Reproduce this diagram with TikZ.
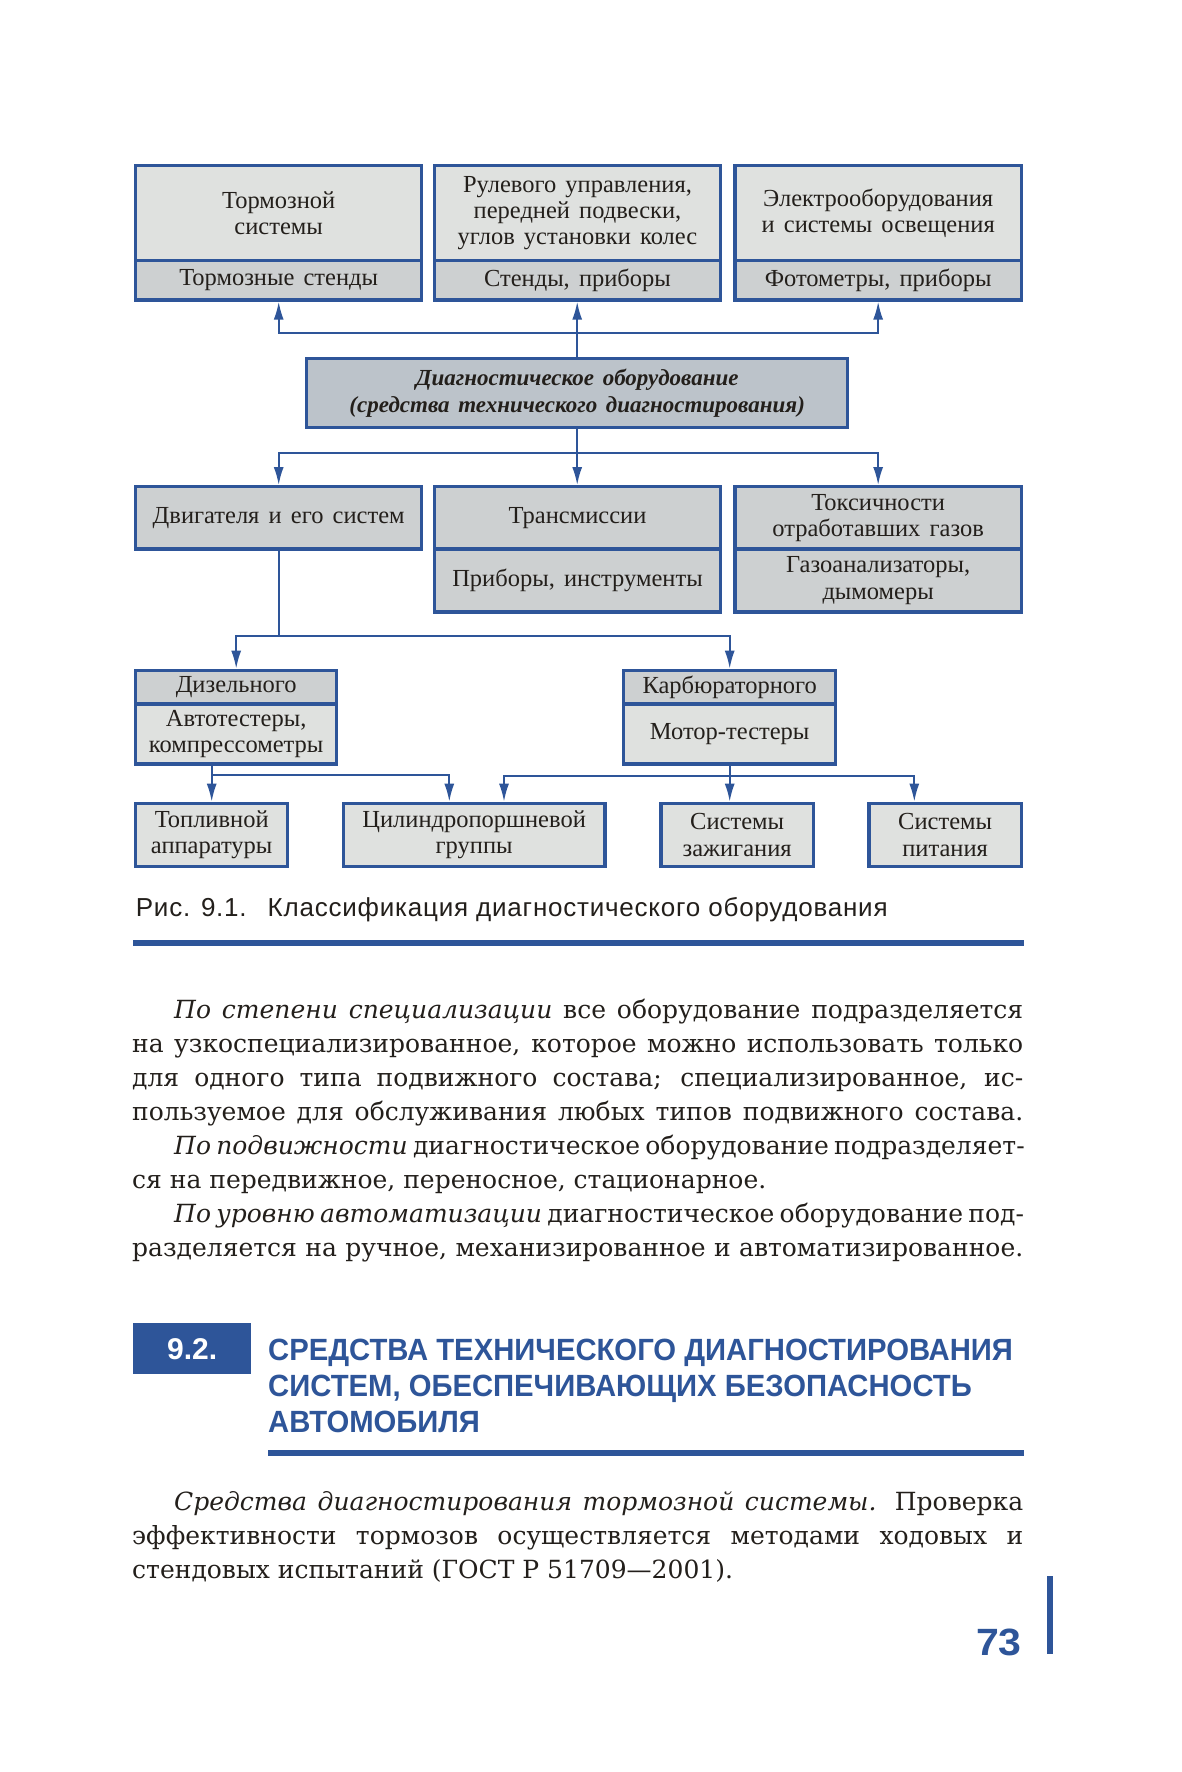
\documentclass[tikz,border=0pt]{standalone}
\usepackage{fontspec}
\setmainfont{Liberation Serif}
\newfontfamily\boxfont[WordSpace=1.5]{Liberation Serif}
\newfontfamily\bodyfont{DejaVu Serif}
\newfontfamily\capfont[LetterSpace=3]{Liberation Sans}
\newfontfamily\headfont[FakeStretch=0.953]{Liberation Sans Bold}
\newfontfamily\numfont{Liberation Sans Bold}
\newfontfamily\pgfont[FakeStretch=1.08]{Liberation Sans Bold}
\usetikzlibrary{arrows.meta}
\definecolor{dblue}{HTML}{2E5599}
\definecolor{ink}{HTML}{231F1B}
\definecolor{fillA}{HTML}{DFE1DF}
\definecolor{fillB}{HTML}{CDD0D1}
\definecolor{fillC}{HTML}{BCC3CA}
\tikzset{
  sec/.style={draw=dblue, line width=3.2pt, inner sep=0pt, anchor=north west, text=ink,
    font=\boxfont\fontsize{24.5}{26.2}\selectfont, align=center},
  conn/.style={draw=dblue, line width=2pt},
  arr/.style={conn, -{Latex[length=18pt,width=10pt]}},
  both/.style={conn, {Latex[length=18pt,width=10pt]}-{Latex[length=18pt,width=10pt]}},
  bline/.style={anchor=base west, inner sep=0pt, text=ink, font=\bodyfont\fontsize{25}{33}\selectfont},
  hline/.style={anchor=base west, inner sep=0pt, text=dblue, font=\headfont\fontsize{30.7}{36}\selectfont},
}
% outer sep is 1.6pt, so the anchor is moved out by it to keep the border path where measured
\newcommand\sect[7]{\node[sec, fill=#6, minimum width=#4-#2, minimum height=#5-#3] (#1) at ({#2-1.6},{#3-1.6}) {#7};}
\begin{document}
\begin{tikzpicture}[x=1pt,y=-1pt]
\fill[white] (0,0) rectangle (1182,1772);
\useasboundingbox (0,0) rectangle (1182,1772);
% top row
\sect{t1a}{135.7}{165.7}{421.7}{260.3}{fillA}{Тормозной\\системы}
\sect{t1b}{135.7}{260.3}{421.7}{300}{fillB}{Тормозные стенды}
\sect{t2a}{434.3}{165.7}{720.7}{260.3}{fillA}{Рулевого управления,\\передней подвески,\\углов установки колес}
\sect{t2b}{434.3}{260.3}{720.7}{300}{fillB}{Стенды, приборы}
\sect{t3a}{735}{165.7}{1021.3}{260.3}{fillA}{Электрооборудования\\и системы освещения}
\sect{t3b}{735}{260.3}{1021.3}{300}{fillB}{Фотометры, приборы}
% main
\node[sec, fill=fillC, minimum width=541, minimum height=69.4,
  font=\boxfont\bfseries\itshape\fontsize{23}{26.5}\selectfont] (main) at (305.1,356.7)
  {Диагностическое оборудование\\(средства технического диагностирования)};
% second row
\sect{m1}{135.7}{486.7}{421.7}{549}{fillB}{Двигателя и его систем}
\sect{m2a}{434.3}{486.7}{720.7}{549}{fillB}{Трансмиссии}
\sect{m2b}{434.3}{549}{720.7}{612}{fillB}{Приборы, инструменты}
\sect{m3a}{735}{486.7}{1021.3}{549}{fillB}{Токсичности\\отработавших газов}
\sect{m3b}{735}{549}{1021.3}{612}{fillB}{Газоанализаторы,\\дымомеры}
% third row
\sect{d1a}{135.7}{670.3}{336.7}{704}{fillB}{Дизельного}
\sect{d1b}{135.7}{704}{336.7}{764}{fillA}{Автотестеры,\\компрессометры}
\sect{c1a}{623.7}{670.3}{835.7}{704}{fillB}{Карбюраторного}
\sect{c1b}{623.7}{704}{835.7}{764}{fillA}{Мотор-тестеры}
% bottom row
\sect{b1}{135.7}{803.3}{287.7}{866.7}{fillA}{Топливной\\аппаратуры}
\sect{b2}{343.3}{803.3}{605}{866.7}{fillA}{Цилиндропоршневой\\группы}
\sect{b3}{661}{803.3}{813.3}{866.7}{fillA}{Системы\\зажигания}
\sect{b4}{869}{803.3}{1021.3}{866.7}{fillA}{Системы\\питания}
% connectors
\coordinate (jt) at (577.5,333.3);
\coordinate (jm) at (577.5,453);
\coordinate (jd) at (277.3,635.7);
\coordinate (dl) at (449.3,775);
\coordinate (cl) at (504,776);
\coordinate (cr) at (914.3,776);
\draw[arr] (main.north) -- (main.north |- t2b.south);
\draw[both] (t1b.south) -- (t1b.south |- jt) -- (t3b.south |- jt) -- (t3b.south);
\draw[arr] (main.south) -- (main.south |- m2a.north);
\draw[both] (m1.north) -- (m1.north |- jm) -- (m3a.north |- jm) -- (m3a.north);
\draw[conn] (m1.south) -- (m1.south |- jd);
\draw[both] (d1a.north) -- (d1a.north |- jd) -- (c1a.north |- jd) -- (c1a.north);
\draw[arr] (b1.north |- d1b.south) -- (b1.north);
\draw[arr] (b1.north |- dl) -- (dl) -- (dl |- b2.north);
\draw[arr] (c1b.south) -- (c1b.south |- b3.north);
\draw[both] (cl |- b2.north) -- (cl) -- (cr) -- (cr |- b4.north);
% caption
\node[anchor=base west, inner sep=0pt, text=ink, font=\capfont\fontsize{26}{30}\selectfont] (cap)
  at (135.7,916) {Рис. 9.1.\hspace{21pt}Классификация диагностического оборудования};
\fill[dblue] (133,940) rectangle (1024,946);
% body paragraph
\node[bline] (p1) at (174,1018) {\makebox[849pt][s]{\itshape По степени специализации\upshape{} все оборудование подразделяется}};
\node[bline] (p2) at (132,1052) {\makebox[891pt][s]{на узкоспециализированное, которое можно использовать только}};
\node[bline] (p3) at (132,1086) {\makebox[891pt][s]{для одного типа подвижного состава; специализированное, ис-}};
\node[bline] (p4) at (132,1120) {\makebox[891pt][s]{пользуемое для обслуживания любых типов подвижного состава.}};
\node[bline] (p5) at (174,1154) {\makebox[849pt][s]{\itshape По подвижности\upshape{} диагностическое оборудование подразделяет-}};
\node[bline] (p6) at (132,1188) {ся на передвижное, переносное, стационарное.};
\node[bline] (p7) at (174,1222) {\makebox[849pt][s]{\itshape По уровню автоматизации\upshape{} диагностическое оборудование под-}};
\node[bline] (p8) at (132,1256) {\makebox[891pt][s]{разделяется на ручное, механизированное и автоматизированное.}};
% heading
\node[fill=dblue, minimum width=118, minimum height=51, anchor=north west, inner sep=0pt, text=white,
  font=\numfont\fontsize{30}{32}\selectfont] (secno) at (133,1323) {9.2.};
\node[hline] (h1) at (268,1360) {СРЕДСТВА ТЕХНИЧЕСКОГО ДИАГНОСТИРОВАНИЯ};
\node[hline] (h2) at (268,1396) {СИСТЕМ, ОБЕСПЕЧИВАЮЩИХ БЕЗОПАСНОСТЬ};
\node[hline] (h3) at (268,1432) {АВТОМОБИЛЯ};
\fill[dblue] (268,1450) rectangle (1024,1456);
% last paragraph
\node[bline] (q1) at (174,1510) {\makebox[849pt][s]{\itshape Средства диагностирования тормозной системы.\upshape{} Проверка}};
\node[bline] (q2) at (132,1544) {\makebox[891pt][s]{эффективности тормозов осуществляется методами ходовых и}};
\node[bline] (q3) at (132,1578) {стендовых испытаний (ГОСТ Р 51709—2001).};
% page number
\node[anchor=base east, inner sep=0pt, text=dblue, font=\pgfont\fontsize{38}{40}\selectfont] (pg) at (1022,1655) {73};
\fill[dblue] (1047,1576) rectangle (1053,1654);
\end{tikzpicture}
\end{document}
